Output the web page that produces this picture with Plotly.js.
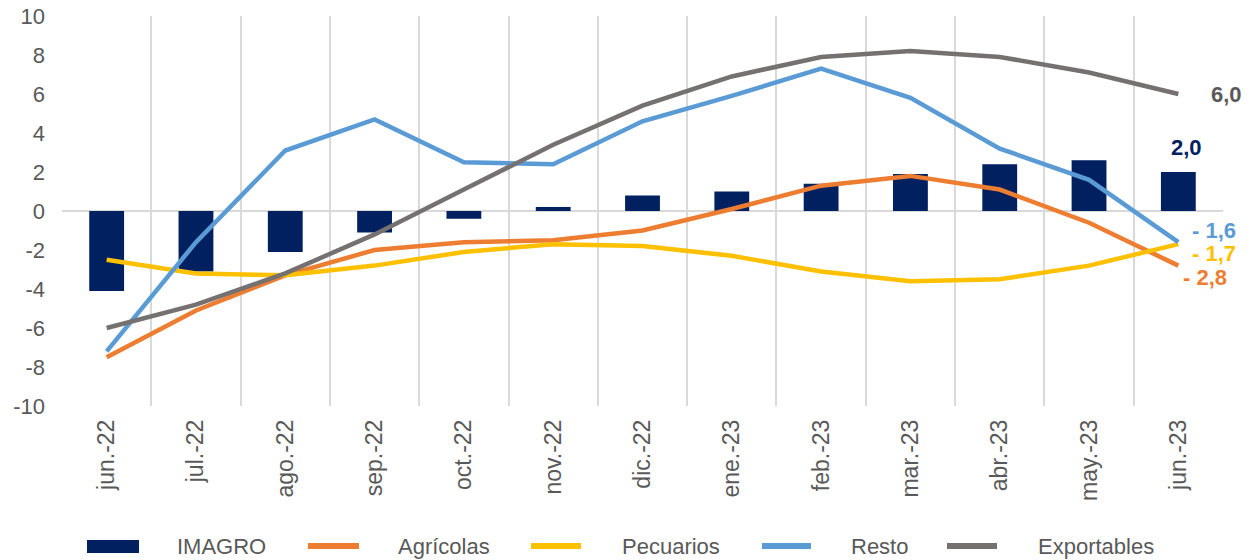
<!DOCTYPE html>
<html>
<head>
<meta charset="utf-8">
<script src="https://cdn.plot.ly/plotly-3.0.1.min.js"></script>
<style>html,body{margin:0;padding:0;background:#fff;}#chart{width:1257px;height:560px;}</style>
</head>
<body>
<div id="chart"></div>
<script>
// ---- data ----
var months = ["jun.-22","jul.-22","ago.-22","sep.-22","oct.-22","nov.-22","dic.-22","ene.-23","feb.-23","mar.-23","abr.-23","may.-23","jun.-23"];
var imagro      = [-4.1, -3.1, -2.1, -1.1, -0.4, 0.2, 0.8, 1.0, 1.4, 1.9, 2.4, 2.6, 2.0];
var agricolas   = [-7.5, -5.1, -3.3, -2.0, -1.6, -1.5, -1.0, 0.1, 1.3, 1.8, 1.1, -0.6, -2.8];
var pecuarios   = [-2.5, -3.2, -3.3, -2.8, -2.1, -1.7, -1.8, -2.3, -3.1, -3.6, -3.5, -2.8, -1.7];
var resto       = [-7.2, -1.6, 3.1, 4.7, 2.5, 2.4, 4.6, 5.9, 7.3, 5.8, 3.2, 1.6, -1.6];
var exportables = [-6.0, -4.8, -3.2, -1.2, 1.1, 3.4, 5.4, 6.9, 7.9, 8.2, 7.9, 7.1, 6.0];
var seriesNames = ["IMAGRO", "Agrícolas", "Pecuarios", "Resto", "Exportables"];
var yTickVals = [-10, -8, -6, -4, -2, 0, 2, 4, 6, 8, 10];
var yTickText = ["-10", "-8", "-6", "-4", "-2", "0", "2", "4", "6", "8", "10"];

// ---- styles ----
var NAVY = "#002060", ORANGE = "#ED7D31", YELLOW = "#FFC000", BLUE = "#5B9BD5", GRAY = "#767171";
var TXT = "#595959";
var FONT = "Liberation Sans, Arial, sans-serif";
var W = 1257, H = 560, ML = 62, MR = 34, MT = 16, MB = 154;
var PW = W - ML - MR, PH = H - MT - MB;
function px2x(px){ return (px - ML) / PW; }
function px2y(py){ return (H - MB - py) / PH; }

function fmt(v){
  var s = Math.abs(v).toFixed(1).replace(".", ",");
  return v < 0 ? "- " + s : s;
}

var lineW = 4.5;
var traces = [
  {type:"bar", name:seriesNames[0], x:months, y:imagro, marker:{color:NAVY}, hoverinfo:"skip"},
  {type:"scatter", mode:"lines", name:seriesNames[1], x:months, y:agricolas, line:{color:ORANGE, width:lineW}},
  {type:"scatter", mode:"lines", name:seriesNames[2], x:months, y:pecuarios, line:{color:YELLOW, width:lineW}},
  {type:"scatter", mode:"lines", name:seriesNames[3], x:months, y:resto, line:{color:BLUE, width:lineW}},
  {type:"scatter", mode:"lines", name:seriesNames[4], x:months, y:exportables, line:{color:GRAY, width:lineW}}
];

var last = months.length - 1;
var lastX = months[last];
var annotations = [
  {x:lastX, y:exportables[last], text:"<b>"+fmt(exportables[last])+"</b>", font:{color:TXT, size:22, family:FONT}, xanchor:"left", yanchor:"middle", xshift:31, yshift:0},
  {x:lastX, y:imagro[last], text:"<b>"+fmt(imagro[last])+"</b>", font:{color:NAVY, size:22, family:FONT}, xanchor:"center", yanchor:"middle", xshift:8, yshift:25},
  {x:lastX, y:resto[last], text:"<b>"+fmt(resto[last])+"</b>", font:{color:BLUE, size:22, family:FONT}, xanchor:"left", yanchor:"middle", xshift:12, yshift:12},
  {x:lastX, y:pecuarios[last], text:"<b>"+fmt(pecuarios[last])+"</b>", font:{color:YELLOW, size:22, family:FONT}, xanchor:"left", yanchor:"middle", xshift:12, yshift:-9},
  {x:lastX, y:agricolas[last], text:"<b>"+fmt(agricolas[last])+"</b>", font:{color:ORANGE, size:22, family:FONT}, xanchor:"left", yanchor:"middle", xshift:3, yshift:-12}
];
annotations.forEach(function(a){ a.showarrow = false; a.xref = "x"; a.yref = "y"; });

// ---- custom legend (layout only) ----
var legendColors = [NAVY, ORANGE, YELLOW, BLUE, GRAY];
var legSymL = [87, 305, 528, 759, 944];
var legSymR = [139, 362, 584, 814, 1000];
var legTxtL = [175, 396, 620, 849, 1036];
var legY = 546;
var shapes = [];
for (var i = 0; i < seriesNames.length; i++) {
  if (i === 0) {
    shapes.push({type:"rect", xref:"paper", yref:"paper", x0:px2x(legSymL[i]), x1:px2x(legSymR[i]), y0:px2y(legY+7), y1:px2y(legY-6), fillcolor:legendColors[i], line:{width:0}});
  } else {
    shapes.push({type:"line", xref:"paper", yref:"paper", x0:px2x(legSymL[i]+3), x1:px2x(legSymR[i]-3), y0:px2y(legY), y1:px2y(legY), line:{color:legendColors[i], width:6}});
  }
  annotations.push({xref:"paper", yref:"paper", x:px2x(legTxtL[i]), y:px2y(legY), text:seriesNames[i], showarrow:false, xanchor:"left", yanchor:"middle", font:{color:TXT, size:22, family:FONT}});
}

var layout = {
  width: W, height: H,
  margin: {l:ML, r:MR, t:MT, b:MB, pad:0},
  paper_bgcolor: "#fff", plot_bgcolor: "#fff",
  showlegend: false,
  bargap: 0.61,
  font: {family: FONT, color: TXT, size: 22},
  xaxis: {
    type: "category", categoryorder: "array", categoryarray: months,
    range: [-0.5, 12.5],
    tickson: "boundaries", ticks: "", showgrid: true, gridcolor: "#D9D9D9", gridwidth: 2,
    showline: false, zeroline: false,
    tickangle: -90, tickfont: {size: 23, color: TXT, family: FONT},
    ticklabelstandoff: 8
  },
  yaxis: {
    range: [-10, 10], tickvals: yTickVals, ticktext: yTickText,
    showgrid: false, zeroline: true, zerolinecolor: "#D9D9D9", zerolinewidth: 2,
    showline: false, ticks: "",
    tickfont: {size: 22, color: TXT, family: FONT},
    ticklabelstandoff: 16
  },
  shapes: shapes,
  annotations: annotations
};

Plotly.newPlot("chart", traces, layout, {displayModeBar: false, staticPlot: true});
</script>
</body>
</html>
